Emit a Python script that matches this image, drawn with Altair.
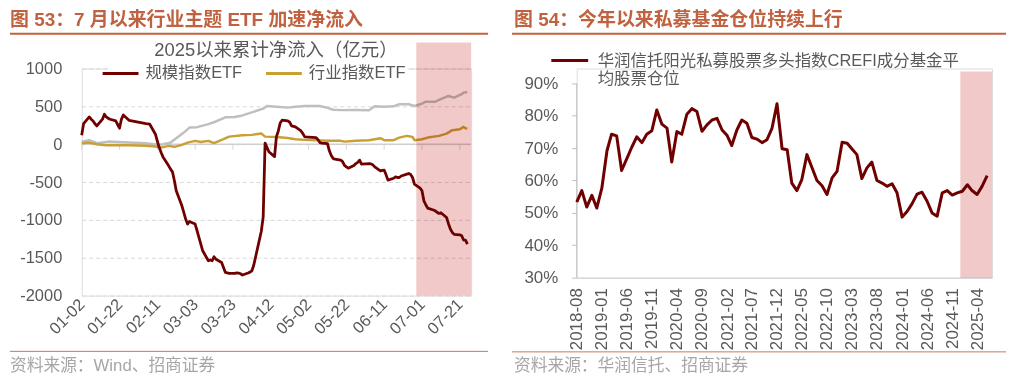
import altair as alt
import pandas as pd

FONT = "Liberation Sans, Noto Sans CJK SC"
HEAD_COLOR = "#C0623F"
TXT = "#595959"
FOOT_TXT = "#A6A6A6"


def ms(s):
    return int(pd.Timestamp(s, tz="UTC").value // 10**6)


# ---------------- left panel: cumulative ETF net inflow (100m CNY) ----------------
scale_dates = [
    "2025-01-02", "2025-01-03", "2025-01-06", "2025-01-07", "2025-01-08", "2025-01-09", "2025-01-10",
    "2025-01-13", "2025-01-14", "2025-01-15", "2025-01-16", "2025-01-17", "2025-01-20", "2025-01-21",
    "2025-01-22", "2025-01-23", "2025-01-24", "2025-01-27", "2025-02-05", "2025-02-06", "2025-02-07",
    "2025-02-10", "2025-02-11", "2025-02-12", "2025-02-13", "2025-02-14", "2025-02-17", "2025-02-18",
    "2025-02-19", "2025-02-20", "2025-02-21", "2025-02-24", "2025-02-25", "2025-02-26", "2025-02-27",
    "2025-02-28", "2025-03-03", "2025-03-04", "2025-03-05", "2025-03-06", "2025-03-07", "2025-03-10",
    "2025-03-11", "2025-03-12", "2025-03-13", "2025-03-14", "2025-03-17", "2025-03-18", "2025-03-19",
    "2025-03-20", "2025-03-21", "2025-03-24", "2025-03-25", "2025-03-26", "2025-03-27", "2025-03-28",
    "2025-03-31", "2025-04-01", "2025-04-02", "2025-04-03", "2025-04-07", "2025-04-08", "2025-04-09",
    "2025-04-10", "2025-04-11", "2025-04-14", "2025-04-15", "2025-04-16", "2025-04-17", "2025-04-18",
    "2025-04-21", "2025-04-22", "2025-04-23", "2025-04-24", "2025-04-25", "2025-04-28", "2025-04-29",
    "2025-04-30", "2025-05-06", "2025-05-07", "2025-05-08", "2025-05-09", "2025-05-12", "2025-05-13",
    "2025-05-14", "2025-05-15", "2025-05-16", "2025-05-19", "2025-05-20", "2025-05-21", "2025-05-22",
    "2025-05-23", "2025-05-26", "2025-05-27", "2025-05-28", "2025-05-29", "2025-05-30", "2025-06-03",
    "2025-06-04", "2025-06-05", "2025-06-06", "2025-06-09", "2025-06-10", "2025-06-11", "2025-06-12",
    "2025-06-13", "2025-06-16", "2025-06-17", "2025-06-18", "2025-06-19", "2025-06-20", "2025-06-23",
    "2025-06-24", "2025-06-25", "2025-06-26", "2025-06-27", "2025-06-30", "2025-07-01", "2025-07-02",
    "2025-07-03", "2025-07-04", "2025-07-07", "2025-07-08", "2025-07-09", "2025-07-10", "2025-07-11",
    "2025-07-14", "2025-07-15", "2025-07-16", "2025-07-17", "2025-07-18", "2025-07-21", "2025-07-22",
    "2025-07-23", "2025-07-24", "2025-07-25",
]
scale_vals = [
    119, 272, 360, 330, 307, 270, 241,
    330, 396, 360, 343, 330, 307, 260,
    211, 330, 386, 316, 272, 268, 264,
    132, 40, -45, -110, -168, -286, -330,
    -365, -480, -616, -814, -900, -990, -1055,
    -1021, -1055, -1140, -1232, -1320, -1408, -1540,
    -1530, -1540, -1487, -1520, -1562, -1630, -1694,
    -1700, -1707, -1707, -1700, -1702, -1712, -1728,
    -1702, -1690, -1672, -1600, -1150, -960, 15,
    -40, -100, -164, 100, 175, 280, 317,
    307, 290, 241, 235, 228, 175, 140,
    96, 87, 60, 21, 15, 8, -88,
    -150, -190, -198, -211, -230, -280, -300,
    -317, -280, -256, -240, -211, -264, -256,
    -260, -273, -300, -352, -345, -343, -405,
    -475, -450, -431, -440, -440, -420, -396,
    -387, -400, -440, -528, -580, -616, -748,
    -800, -844, -870, -880, -900, -915, -906,
    -968, -1050, -1120, -1166, -1190, -1197, -1210,
    -1266, -1266, -1319,
]

ind_dates = [
    "2025-01-02", "2025-01-06", "2025-01-10", "2025-01-15", "2025-01-27", "2025-02-05", "2025-02-10",
    "2025-02-13", "2025-02-17", "2025-02-20", "2025-02-24", "2025-02-27", "2025-03-03", "2025-03-06",
    "2025-03-10", "2025-03-13", "2025-03-18", "2025-03-21", "2025-03-28", "2025-04-02", "2025-04-07",
    "2025-04-09", "2025-04-15", "2025-04-21", "2025-04-25", "2025-04-30", "2025-05-06", "2025-05-12",
    "2025-05-19", "2025-05-21", "2025-05-27", "2025-06-03", "2025-06-09", "2025-06-11", "2025-06-16",
    "2025-06-19", "2025-06-23", "2025-06-26", "2025-06-27", "2025-07-01", "2025-07-04", "2025-07-10",
    "2025-07-14", "2025-07-17", "2025-07-21", "2025-07-23", "2025-07-24", "2025-07-25",
]
ind_vals = [
    13, 21, 0, -13, -13, -22, -31,
    -45, -22, -35, -9, 21, 44, 30,
    44, 13, 66, 100, 119, 123, 140,
    100, 96, 83, 66, 57, 53, 44,
    44, 34, 44, 53, 79, 53, 53,
    87, 110, 96, 53, 66, 87, 110,
    140, 185, 198, 228, 211, 206,
]

theme_dates = [
    "2025-01-02", "2025-01-06", "2025-01-10", "2025-01-16", "2025-01-27", "2025-02-05", "2025-02-12",
    "2025-02-14", "2025-02-18", "2025-02-21", "2025-02-25", "2025-02-28", "2025-03-04", "2025-03-10",
    "2025-03-14", "2025-03-19", "2025-03-24", "2025-03-28", "2025-04-02", "2025-04-08", "2025-04-10",
    "2025-04-15", "2025-04-21", "2025-04-25", "2025-04-30", "2025-05-08", "2025-05-12", "2025-05-15",
    "2025-05-20", "2025-05-27", "2025-06-03", "2025-06-06", "2025-06-11", "2025-06-16", "2025-06-19",
    "2025-06-24", "2025-06-27", "2025-07-01", "2025-07-03", "2025-07-08", "2025-07-11", "2025-07-15",
    "2025-07-18", "2025-07-22", "2025-07-23", "2025-07-25",
]
theme_vals = [
    34, 53, 13, 34, 21, 13, -9,
    0, 21, 79, 153, 219, 225, 265,
    300, 355, 360, 380, 420, 470, 505,
    496, 483, 496, 505, 505, 480, 455,
    450, 453, 449, 500, 496, 500, 528,
    528, 505, 536, 562, 562, 594, 637,
    615, 660, 681, 690,
]

left_series = ["规模指数ETF", "行业指数ETF"]
left_colors = ["#700000", "#C9A033"]
left_ticks = ["2025-01-02", "2025-01-22", "2025-02-11", "2025-03-03", "2025-03-23", "2025-04-12",
              "2025-05-02", "2025-05-22", "2025-06-11", "2025-07-01", "2025-07-21"]
left_domain = ["2025-01-02", "2025-07-27"]
left_shade = ["2025-06-28", "2025-07-27"]
left_yticks = [-2000, -1500, -1000, -500, 0, 500, 1000]

left_header = "图 53：7 月以来行业主题 ETF 加速净流入"
left_title = "2025以来累计净流入（亿元）"
left_source = "资料来源：Wind、招商证券"

# ---------------- right panel: private fund equity position (%) ----------------
pos_vals = [
    53.3, 56.9, 51.8, 55.4, 51.5, 57.7, 69.2, 74.3, 73.8, 63.1,
    66.7, 70.2, 73.5, 71.7, 74.3, 75.4, 81.8, 77.4, 76.2, 65.7,
    75.1, 74.3, 80.5, 82.2, 81.3, 75.2, 77.2, 78.7, 79.2, 75.6,
    73.9, 70.8, 75.6, 78.7, 77.7, 73.3, 72.8, 71.7, 72.6, 76.2,
    83.7, 69.8, 69.5, 59.2, 56.9, 60.3, 68.0, 64.1, 60.0, 58.4,
    55.7, 60.8, 62.8, 71.8, 71.5, 69.8, 68.0, 60.6, 63.9, 65.7,
    60.0, 59.2, 58.2, 59.0, 56.2, 48.7, 50.5, 52.8, 55.8, 56.4,
    53.6, 50.0, 49.0, 56.2, 56.9, 55.5, 56.2, 56.7, 58.7, 56.9,
    55.7, 58.2, 61.5,
]
pos_months = [d.strftime("%Y-%m-%d") for d in pd.date_range("2018-08-01", periods=len(pos_vals), freq="MS")]
right_series = "华润信托阳光私募股票多头指数CREFI成分基金平均股票仓位"
right_ticks = ["2018-08-01", "2019-01-01", "2019-06-01", "2019-11-01", "2020-04-01", "2020-09-01",
               "2021-02-01", "2021-07-01", "2021-12-01", "2022-05-01", "2022-10-01", "2023-03-01",
               "2023-08-01", "2024-01-01", "2024-06-01", "2024-11-01", "2025-04-01"]
right_domain = ["2018-08-01", "2025-07-01"]
right_shade = ["2024-12-20", "2025-07-01"]
right_yticks = [30, 40, 50, 60, 70, 80, 90]
right_ydomain = [30, 94.6]

right_header = "图 54：今年以来私募基金仓位持续上行"
right_source = "资料来源：华润信托、招商证券"

# ---------------- sizes ----------------
LW, LH = 391, 228
RW, RH = 417, 210

one = pd.DataFrame({"k": [0]})


def text_layer(txt, x, y, size, color, weight="normal", align="left", baseline="alphabetic"):
    return alt.Chart(pd.DataFrame({"t": [txt]})).mark_text(
        align=align, baseline=baseline, font=FONT, fontSize=size, fontWeight=weight, color=color
    ).encode(text="t:N", x=alt.value(x), y=alt.value(y))


def hrule(x1, x2, y, color, width):
    return alt.Chart(one).mark_rule(color=color, strokeWidth=width).encode(
        x=alt.value(x1), x2=alt.value(x2), y=alt.value(y)
    )


# ---------------- left chart ----------------
xL = alt.X(
    "date:T", title=None,
    scale=alt.Scale(type="utc", domain=[ms(left_domain[0]), ms(left_domain[1])]),
    axis=alt.Axis(values=[ms(t) for t in left_ticks], format="%m-%d", labelAngle=-45,
                  labelAlign="right", labelBaseline="middle", labelPadding=6,
                  labelFontSize=16.5, labelColor=TXT, labelFont=FONT, domain=False,
                  ticks=False, grid=False, labelOverlap=False, labelFlush=False, labelBound=False),
)
scL_y = alt.Scale(domain=[-2000, 1000], nice=False, zero=False)
axL_y = alt.Axis(values=left_yticks, labelExpr="'' + datum.value", domain=False, ticks=False,
                 grid=True, gridDash=[4, 3], gridColor="#D9D9D9", gridWidth=1,
                 labelFontSize=16.5, labelColor=TXT, labelFont=FONT, labelPadding=20,
                 labelOverlap=False, labelFlush=False, labelBound=False)
yL = alt.Y("value:Q", title=None, scale=scL_y, axis=axL_y)
y0L = alt.YDatum(0, type="quantitative", title=None, scale=scL_y, axis=axL_y)
cL = alt.Color(
    "series:N", title=None,
    scale=alt.Scale(domain=left_series, range=left_colors),
    legend=alt.Legend(orient="none", legendX=26.5, legendY=-7.5, direction="horizontal",
                      symbolType="M-2,0H2", symbolSize=324, symbolStrokeWidth=3,
                      labelFontSize=16.5, labelColor=TXT, labelFont=FONT, labelOffset=14.5,
                      columnPadding=17, fillColor="white", padding=2, labelLimit=300),
)

df_scale = pd.DataFrame({"date": scale_dates, "value": scale_vals, "series": left_series[0]})
df_ind = pd.DataFrame({"date": ind_dates, "value": ind_vals, "series": left_series[1]})
df_theme = pd.DataFrame({"date": theme_dates, "value": theme_vals})
df_lticks = pd.DataFrame({"date": left_ticks})
df_lshade = pd.DataFrame({"date": [left_shade[0]], "date2": [left_shade[1]]})

zero_line = alt.Chart(one).mark_rule(color="#D0D0D0", strokeWidth=1.5).encode(y=y0L)
zero_ticks = alt.Chart(df_lticks).mark_tick(orient="vertical", size=5, thickness=1, color="#C8C8C8",
                                             yOffset=3).encode(x=xL, y=y0L)
line_theme = alt.Chart(df_theme).mark_line(color="#BFBFBF", strokeWidth=2.5, strokeJoin="round").encode(x=xL, y=yL)
line_ind = alt.Chart(df_ind).mark_line(strokeWidth=2.5, strokeJoin="round").encode(x=xL, y=yL, color=cL)
line_scale = alt.Chart(df_scale).mark_line(strokeWidth=2.8, strokeJoin="round").encode(x=xL, y=yL, color=cL)
shade_L = alt.Chart(df_lshade).mark_rect(color="#F1C9C9", blend="multiply").encode(
    x=xL, x2=alt.X2("date2:T"), y=alt.value(-26), y2=alt.value(LH)
)

left = alt.layer(
    zero_line, zero_ticks, line_theme, line_ind, line_scale, shade_L,
    text_layer(left_title, 195, -19, 18.5, TXT, align="center", baseline="middle"),
    text_layer(left_header, -72, -43, 19, HEAD_COLOR, weight="bold"),
    hrule(-72, 408, -35, HEAD_COLOR, 2),
    hrule(-72, 408, 284, "#C87858", 1),
    text_layer(left_source, -72, 298.5, 16.8, FOOT_TXT, baseline="middle"),
).properties(width=LW, height=LH)

# ---------------- right chart ----------------
xR = alt.X(
    "date:T", title=None,
    scale=alt.Scale(type="utc", domain=[ms(right_domain[0]), ms(right_domain[1])]),
    axis=alt.Axis(values=[ms(t) for t in right_ticks], format="%Y-%m", labelAngle=-90,
                  labelAlign="right", labelBaseline="middle", labelPadding=10,
                  labelFontSize=17, labelColor=TXT, labelFont=FONT, domain=True,
                  domainColor="#D9D9D9", domainWidth=1.5, ticks=False, grid=False,
                  labelOverlap=False, labelFlush=False, labelBound=False),
)
scR_y = alt.Scale(domain=right_ydomain, nice=False, zero=False)
axR_y = alt.Axis(values=right_yticks, labelExpr="datum.value + '%'", domain=False,
                 ticks=True, tickColor="#BFBFBF", tickSize=5, grid=False,
                 labelFontSize=17, labelColor=TXT, labelFont=FONT, labelPadding=14,
                 labelOverlap=False, labelFlush=False, labelBound=False)
yR = alt.Y("value:Q", title=None, scale=scR_y, axis=axR_y)
cR = alt.Color(
    "series:N", title=None,
    scale=alt.Scale(domain=[right_series], range=["#700000"]),
    legend=alt.Legend(orient="none", legendX=-27, legendY=-28, symbolType="stroke",
                      symbolSize=1369, symbolStrokeWidth=3, labelFontSize=16.5,
                      labelColor=TXT, labelFont=FONT, labelOffset=8, labelLimit=600, padding=0,
                      labelExpr="[substring(datum.label, 0, 24), substring(datum.label, 24)]"),
)

df_pos = pd.DataFrame({"date": pos_months, "value": pos_vals, "series": right_series})
df_rshade = pd.DataFrame({"date": [right_shade[0]], "date2": [right_shade[1]]})

y_axis_line = alt.Chart(one).mark_rule(color="#BFBFBF", strokeWidth=1).encode(
    x=alt.value(0),
    y=alt.YDatum(right_yticks[0], type="quantitative", title=None, scale=scR_y, axis=axR_y),
    y2=alt.Y2Datum(right_yticks[-1]),
)
line_pos = alt.Chart(df_pos).mark_line(strokeWidth=3, strokeJoin="round").encode(x=xR, y=yR, color=cR)
shade_R = alt.Chart(df_rshade).mark_rect(color="#F1C9C9", blend="multiply").encode(
    x=xR, x2=alt.X2("date2:T"), y=alt.value(3), y2=alt.value(RH)
)

right = alt.layer(
    y_axis_line, line_pos, shade_R,
    text_layer(right_header, -63, -43, 19, HEAD_COLOR, weight="bold"),
    hrule(-65, 431, -35, HEAD_COLOR, 2),
    hrule(-65, 431, 284.5, "#C87858", 1),
    text_layer(right_source, -63, 298.5, 16.8, FOOT_TXT, baseline="middle"),
).properties(width=RW, height=RH)

chart = alt.hconcat(left, right, spacing=20).resolve_scale(
    color="independent"
).resolve_legend(color="independent").properties(
    padding={"left": 0, "top": 1, "right": 0, "bottom": 0}
).configure_view(stroke=None).configure(font=FONT, background="white")

chart.save("out.html", embed_options={"renderer": "svg", "actions": False})
